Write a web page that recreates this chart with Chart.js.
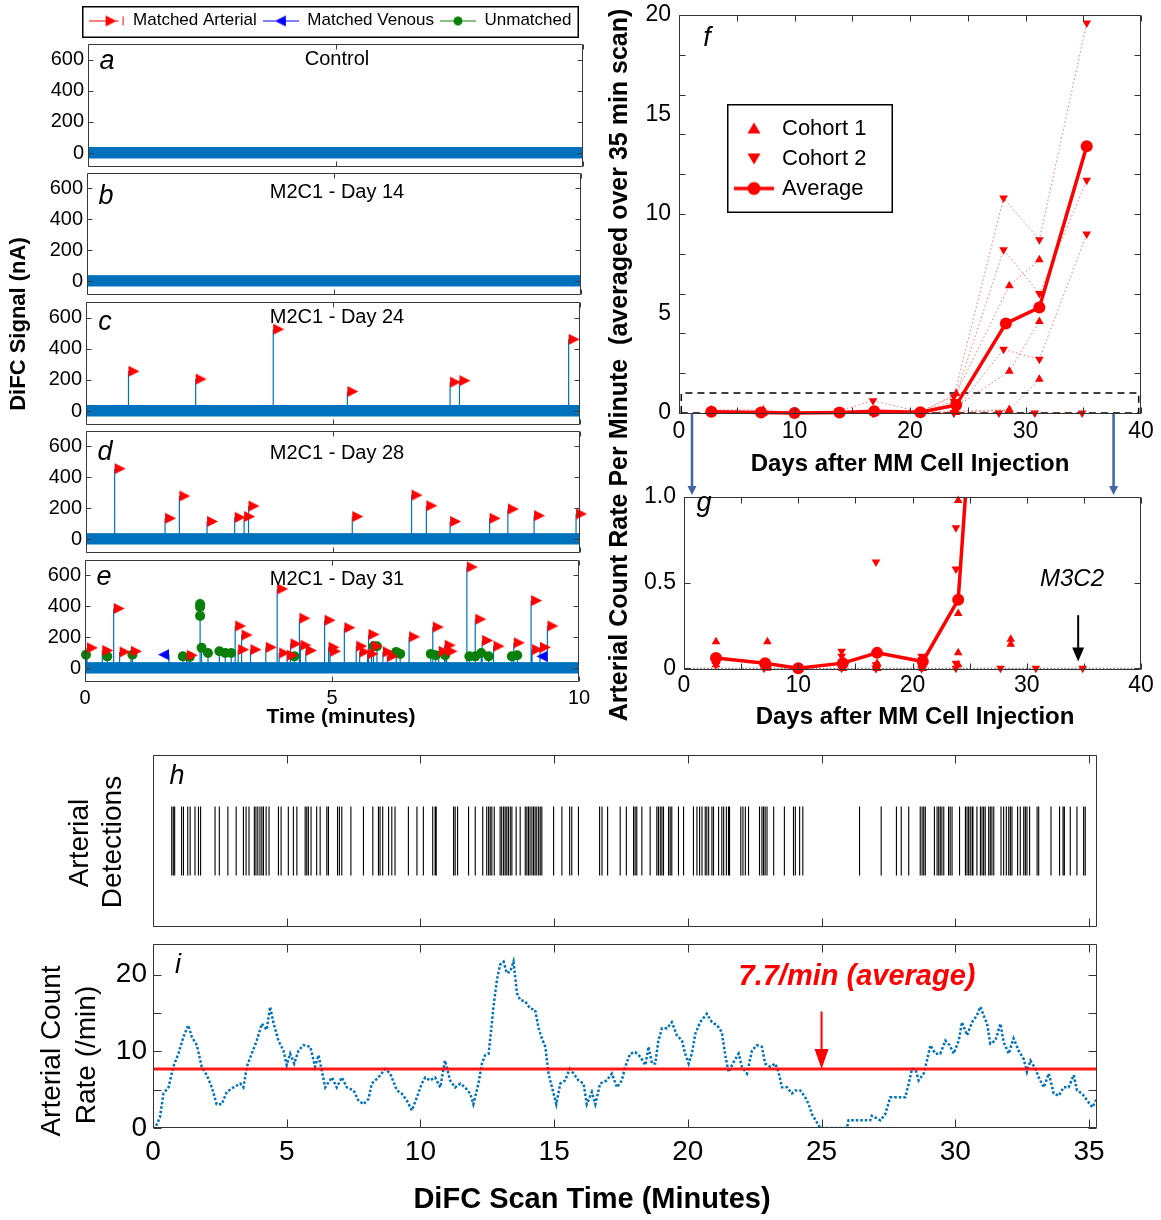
<!DOCTYPE html>
<html>
<head>
<meta charset="utf-8">
<title>DiFC arterial detections</title>
<script src="https://cdn.jsdelivr.net/npm/chart.js@4.4.1/dist/chart.umd.min.js"></script>
<style>
  body { margin: 0; background: #fff; }
  #fig { position: relative; width: 1161px; height: 1220px; overflow: hidden; background: #fff; }
  #fig canvas { position: absolute; left: 0; top: 0; }
</style>
</head>
<body>
<div id="fig">
  <canvas id="chartA" width="1161" height="1220"></canvas>
  <canvas id="chartB" width="1161" height="1220"></canvas>
  <canvas id="chartC" width="1161" height="1220"></canvas>
  <canvas id="chartD" width="1161" height="1220"></canvas>
  <canvas id="chartE" width="1161" height="1220"></canvas>
  <canvas id="chartF" width="1161" height="1220"></canvas>
  <canvas id="chartG" width="1161" height="1220"></canvas>
  <canvas id="chartH" width="1161" height="1220"></canvas>
  <canvas id="chartI" width="1161" height="1220"></canvas>
  <canvas id="legendTop" width="600" height="100" style="left:30px;top:0px"></canvas>
  <canvas id="legendF" width="400" height="109" style="left:727px;top:104px"></canvas>
</div>
<script>
// ---------------- data ----------------
// a-e : DiFC traces (10 min), spikes in nA
var traceTimes = [0, 10]
var noiseLow = [-35, -35]
var noiseHigh = [35, 35]
var signalTicks = [0, 200, 400, 600]
var minuteTicks = [0, 5, 10]

var cArtT = [0.86, 2.22, 3.79, 5.29, 7.37, 7.56, 9.77]
var cArtH = [255, 205, 525, 125, 185, 195, 460]

var dArtT = [0.58, 1.60, 1.89, 2.45, 3.01, 3.20, 3.29, 5.39, 6.59, 6.89, 7.37, 8.17, 8.54, 9.07, 9.92]
var dArtH = [456, 135, 279, 114, 141, 146, 214, 146, 285, 216, 114, 135, 195, 152, 163]

var eArtT = [0.04, 0.35, 0.58, 0.70, 0.93, 2.06, 3.04, 3.10, 3.17, 3.35, 3.66, 3.89, 3.93, 4.09, 4.16, 4.34, 4.36, 4.47, 4.85, 4.93, 4.96, 5.25, 5.49, 5.56, 5.72, 5.74, 5.80, 6.03, 6.12, 6.56, 7.04, 7.16, 7.28, 7.32, 7.73, 7.90, 8.04, 8.27, 8.68, 9.03, 9.05, 9.21, 9.36]
var eArtH = [131, 114, 386, 105, 109, 83, 273, 120, 214, 120, 135, 513, 98, 83, 157, 323, 148, 114, 310, 135, 109, 262, 142, 105, 92, 218, 142, 105, 76, 203, 266, 109, 148, 109, 655, 317, 179, 142, 164, 437, 120, 135, 273]
var eVenT = [1.70, 9.36]
var eVenH = [87, 76]
var eUnT = [0.02, 0.45, 0.96, 1.98, 2.12, 2.33, 2.33, 2.33, 2.36, 2.49, 2.72, 2.84, 2.96, 4.24, 5.84, 5.91, 6.30, 6.38, 7.00, 7.10, 7.29, 7.78, 7.90, 8.02, 8.17, 8.64, 8.75]
var eUnH = [87, 76, 87, 76, 72, 415, 395, 338, 131, 98, 109, 98, 98, 76, 142, 142, 105, 92, 92, 83, 83, 76, 76, 98, 76, 76, 83]

// f, g : count rate per mouse vs day
var avgDays = [2.8, 7.1, 10.0, 13.9, 16.9, 20.9, 24.0, 28.3, 31.2, 35.3]
var avgRate = [0.06, 0.03, 0.0, 0.03, 0.09, 0.04, 0.40, 4.5, 5.3, 13.4]

var cohort1Days = [2.8, 7.3, 10.0, 13.9, 16.9, 20.9, 24.0, 28.6, 31.2]
var c1MouseA = [0.155, 0.155, 0, 0, 0.02, 0, 0.98, 6.4, 7.7]
var c1MouseB = [0.04, 0.01, 0, 0.02, 0, 0, 0.32, 2.1, 4.6]
var c1MouseC = [0.02, 0, 0, 0, 0.03, 0.02, 0.09, 0.17, 1.7]
var c1MouseD = [0.04, 0.02, 0, 0, 0, 0, 0.02, 0.14, null]

var cohort2Days = [2.8, 7.0, 10.0, 13.8, 16.8, 20.8, 23.8, 28.1, 31.2, 35.3]
var c2MouseA = [0.03, 0.02, 0, 0.10, 0.62, 0.07, 0.82, 10.8, 8.7, 19.6]
var c2MouseB = [0.05, 0.01, 0, 0.07, 0.02, 0.05, 0.58, 8.2, 6.0, 11.7]
var c2MouseC = [0.02, 0, 0, 0.03, 0, 0, 0.03, 3.2, 2.7, 9.0]
var m3c2Days = [2.8, 7.0, 10.0, 13.8, 16.8, 20.8, 23.8, 27.7, 30.8, 34.9]
var m3c2Rate = [0.04, 0.03, 0, 0, 0, 0, 0, 0, 0, 0]

var zoomRectDays = [0.2, 39.8]
var zoomRectRate = [0, 1]
var dayTicks = [0, 10, 20, 30, 40]
var dayMarks = [0, 5, 10, 15, 20, 25, 30, 35, 40]
var fRateTicks = [0, 5, 10, 15, 20]
var fRateMarks = [0, 2, 4, 6, 8, 10, 12, 14, 16, 18, 20]
var gRateTicks = [0, 0.5, 1]
var gRateLabels = ['0', '0.5', '1.0']

// h, i : one 35 min scan
var scanRange = [0, 35.3]
var scanTicks = [0, 5, 10, 15, 20, 25, 30, 35]
var eventTimes = [0.70, 0.76, 0.81, 1.07, 1.14, 1.30, 1.39, 1.57, 1.70, 1.78, 2.32, 2.48, 2.80, 3.11, 3.38, 3.48, 3.59, 3.79, 3.85, 3.92, 4.00, 4.07, 4.13, 4.23, 4.34, 4.69, 4.79, 5.06, 5.25, 5.38, 5.69, 5.75, 5.81, 5.91, 6.12, 6.25, 6.50, 6.56, 6.90, 6.97, 7.06, 7.40, 7.87, 8.22, 8.43, 8.49, 8.59, 8.81, 8.93, 9.05, 9.55, 9.87, 10.11, 10.46, 10.55, 10.59, 11.24, 11.30, 11.39, 11.80, 12.05, 12.33, 12.48, 12.55, 12.61, 12.67, 12.76, 12.98, 13.04, 13.11, 13.17, 13.23, 13.29, 13.36, 13.42, 13.58, 13.73, 13.92, 13.98, 14.04, 14.10, 14.17, 14.23, 14.29, 14.35, 14.42, 14.48, 14.54, 14.98, 15.29, 15.58, 15.66, 15.91, 16.70, 16.79, 17.00, 17.47, 17.70, 17.97, 18.03, 18.09, 18.28, 18.59, 18.84, 18.90, 18.97, 19.03, 19.09, 19.28, 19.34, 19.40, 19.65, 19.84, 20.21, 20.34, 20.44, 20.53, 20.65, 20.71, 20.78, 20.90, 20.96, 21.15, 21.27, 21.34, 21.44, 21.52, 21.56, 21.98, 22.06, 22.15, 22.27, 22.68, 22.77, 22.83, 22.89, 22.96, 23.21, 23.61, 23.95, 24.02, 24.18, 24.30, 26.42, 27.23, 27.80, 27.98, 28.26, 28.69, 28.76, 28.82, 28.88, 29.22, 29.32, 29.38, 29.44, 29.50, 29.57, 29.75, 29.81, 29.88, 30.16, 30.38, 30.44, 30.50, 30.56, 30.63, 30.66, 30.81, 30.94, 31.00, 31.06, 31.12, 31.25, 31.31, 31.37, 31.44, 31.71, 31.81, 31.91, 32.00, 32.06, 32.12, 32.33, 32.43, 32.56, 32.62, 32.68, 32.78, 33.06, 33.12, 33.58, 33.90, 34.03, 34.08, 34.30, 34.55, 34.80, 34.86]
var eventSpan = [0.3, 0.7]

var rateTimes = [0.0, 0.08, 0.26, 0.39, 0.58, 0.76, 0.95, 1.14, 1.32, 1.45, 1.64, 1.82, 2.01, 2.2, 2.38, 2.57, 2.76, 3.01, 3.26, 3.38, 3.51, 3.69, 3.88, 4.07, 4.25, 4.38, 4.5, 4.69, 4.88, 5.0, 5.13, 5.28, 5.44, 5.63, 5.88, 6.06, 6.19, 6.31, 6.44, 6.69, 6.87, 7.06, 7.25, 7.5, 7.68, 7.87, 8.06, 8.18, 8.43, 8.68, 8.87, 9.12, 9.3, 9.49, 9.68, 9.87, 10.05, 10.18, 10.36, 10.55, 10.74, 10.92, 11.11, 11.3, 11.49, 11.67, 11.86, 11.98, 12.17, 12.3, 12.42, 12.55, 12.67, 12.73, 12.86, 12.98, 13.11, 13.23, 13.36, 13.48, 13.61, 13.73, 13.92, 14.1, 14.29, 14.42, 14.54, 14.67, 14.79, 14.92, 15.08, 15.23, 15.41, 15.58, 15.73, 15.91, 16.1, 16.22, 16.41, 16.54, 16.72, 16.97, 17.16, 17.35, 17.53, 17.66, 17.84, 18.03, 18.22, 18.41, 18.53, 18.66, 18.78, 18.9, 19.03, 19.22, 19.4, 19.59, 19.78, 19.9, 20.03, 20.15, 20.28, 20.46, 20.71, 20.9, 21.09, 21.27, 21.4, 21.52, 21.71, 21.9, 22.02, 22.21, 22.4, 22.58, 22.77, 22.89, 23.08, 23.27, 23.39, 23.52, 23.71, 23.89, 24.02, 24.2, 24.39, 24.52, 24.64, 24.83, 24.95, 25.95, 26.01, 26.82, 26.88, 27.2, 27.38, 27.57, 27.82, 28.13, 28.26, 28.38, 28.51, 28.63, 28.82, 28.94, 29.07, 29.25, 29.44, 29.63, 29.79, 29.94, 30.13, 30.25, 30.44, 30.63, 30.81, 30.94, 31.06, 31.19, 31.31, 31.5, 31.69, 31.81, 32.0, 32.18, 32.37, 32.56, 32.68, 32.81, 33.0, 33.12, 33.31, 33.5, 33.68, 33.87, 34.05, 34.24, 34.43, 34.55, 34.74, 34.93, 35.12, 35.3]
var rateValues = [0, 0, 1.4, 4.5, 5.3, 8, 9.7, 11.9, 13.4, 11.9, 10.8, 8, 6.9, 5.3, 3.1, 3.1, 4.7, 5.3, 5.8, 5.3, 8, 9.7, 11.4, 13.6, 12.8, 15.8, 13.8, 11.4, 10.1, 8.2, 9.7, 8.4, 10.1, 10.8, 10.6, 8, 9.5, 7.5, 5.3, 6.6, 5.3, 6.6, 5.3, 4.9, 3.6, 3.1, 3.8, 5.8, 6.6, 7.7, 7.1, 4.9, 4.5, 3.6, 2.3, 4.0, 5.8, 6.6, 6.2, 6.6, 5.3, 8.8, 6.2, 5.3, 5.8, 5.3, 4.5, 3.1, 5.8, 8.4, 9.5, 9.7, 13.6, 15.8, 19.3, 21.3, 21.7, 20.2, 20.4, 21.7, 17.6, 16.7, 16.5, 15.6, 15.4, 13, 11.7, 10.6, 7.1, 5.3, 3.1, 5.8, 6.2, 7.7, 7.1, 6.2, 5.8, 3.1, 4.7, 3.1, 5.8, 6.2, 7.1, 5.3, 6.2, 8, 9.7, 9.9, 9.3, 8.2, 10.6, 8.4, 8.4, 11.4, 13, 13, 13.8, 12.1, 11.4, 9.7, 8.4, 9.7, 12.3, 13.8, 14.9, 13.8, 13.4, 12.5, 9.5, 7.3, 8.6, 9.7, 8, 7.1, 10.1, 10.8, 10.6, 8.4, 8, 8.4, 7.3, 5.3, 5.3, 4.5, 4.9, 4.9, 4.0, 3.1, 1.8, 0.7, 0, 0, 1.0, 1.0, 1.6, 1.0, 1.8, 4, 4, 4, 5.8, 7.7, 7.7, 6.2, 7.1, 8.8, 10.8, 9.7, 9.7, 11.4, 10.8, 9.7, 11.4, 13.8, 12.1, 13.8, 14.7, 15.8, 14.7, 13.6, 11, 11.4, 13.6, 11.2, 9.7, 11.7, 10.1, 9, 7.3, 8.8, 7.7, 6.6, 5.3, 7.1, 4.5, 4.2, 5.3, 5.3, 6.9, 4.9, 4.5, 3.6, 2.7, 3.8]
var averageRate = 7.7
var rateTicks = [0, 10, 20]
var rateMarks = [0, 5, 10, 15, 20]

// ---------------- layout / helpers ----------------
var W = 1161, H = 1220
var FONT = '"Liberation Sans", Arial, Helvetica, sans-serif'
var BLUE = '#0072BD'
var RED = '#ff0000'
var GREEN = '#0a800a'

Chart.defaults.font.family = FONT
Chart.defaults.color = '#000'
Chart.defaults.animation = false
Chart.defaults.responsive = false
Chart.defaults.events = []
Chart.defaults.plugins.legend.display = false
Chart.defaults.plugins.tooltip.enabled = false

var boxA = {l: 88, t: 44, r: 583, b: 167}
var boxB = {l: 87, t: 173, r: 581, b: 295}
var boxC = {l: 86, t: 302, r: 580, b: 425}
var boxD = {l: 86, t: 431, r: 580, b: 553}
var boxE = {l: 85, t: 560, r: 579, b: 682}
var boxF = {l: 679, t: 15, r: 1141, b: 414}
var boxG = {l: 684, t: 497, r: 1141, b: 670}
var boxH = {l: 153, t: 755, r: 1097, b: 927}
var boxI = {l: 153, t: 944, r: 1097, b: 1128}

function lay(box, yW, xH) {
  return {padding: {left: box.l - yW, top: box.t, right: W - box.r, bottom: H - box.b - xH}}
}

function axis(dir, min, max, labels, show, font, pad, fixed, fmt) {
  return {
    type: 'linear', min: min, max: max,
    grid: {display: false, drawTicks: false},
    border: {display: false},
    afterBuildTicks: function (s) { s.ticks = labels.map(function (v) { return {value: v} }) },
    afterFit: function (s) {
      if (dir === 'x') { s.height = fixed } else { s.width = fixed }
      // labels may stick out past the box, the page layout already leaves room
      s.paddingTop = 0; s.paddingBottom = 0; s.paddingLeft = 0; s.paddingRight = 0
    },
    ticks: {display: show, autoSkip: false, maxRotation: 0, minRotation: 0, padding: pad, font: {size: font}, color: '#000',
      callback: fmt || function (v) { return String(v) }}
  }
}

function pts(xs, ys) {
  return xs.map(function (x, i) { return {x: x, y: ys[i]} })
}

function stems(times, heights, base) {
  var out = []
  for (var i = 0; i < times.length; i++) {
    out.push({x: times[i], y: base}, {x: times[i], y: heights[i]}, {x: times[i], y: null})
  }
  return out
}

function text(g, s, x, y, font, color, rot, align) {
  g.save()
  g.translate(x, y)
  if (rot) g.rotate(rot)
  g.font = font
  g.fillStyle = color || '#000'
  g.textAlign = align || 'center'
  g.textBaseline = 'middle'
  g.fillText(s, 0, 0)
  g.restore()
}

function arrowDown(g, x, y0, y1, color, lw, hw, hh) {
  g.save()
  g.strokeStyle = color
  g.fillStyle = color
  g.lineWidth = lw
  g.beginPath()
  g.moveTo(x, y0)
  g.lineTo(x, y1 - hh + 1)
  g.stroke()
  g.beginPath()
  g.moveTo(x - hw, y1 - hh)
  g.lineTo(x + hw, y1 - hh)
  g.lineTo(x, y1)
  g.closePath()
  g.fill()
  g.restore()
}

// triangle markers whose flat side sits on the data point (like the stem plots)
function triCanvas(dir, color) {
  var w = 11, h = 11
  var c = document.createElement('canvas')
  c.width = 2 * w + 2
  c.height = h + 2
  var g = c.getContext('2d')
  var m = w + 1
  g.fillStyle = color
  g.beginPath()
  g.moveTo(m, 1)
  g.lineTo(m + dir * w, 1 + h / 2)
  g.lineTo(m, 1 + h)
  g.closePath()
  g.fill()
  return c
}
var triRight = triCanvas(1, RED)
var triLeft = triCanvas(-1, '#0000ff')

function legendIcon(kind, color) {
  var c = document.createElement('canvas')
  c.width = 36
  c.height = 14
  var g = c.getContext('2d')
  g.strokeStyle = color
  g.fillStyle = color
  g.lineWidth = 1
  g.beginPath()
  g.moveTo(0, 7.5)
  g.lineTo(kind === 'r' ? 30 : 36, 7.5)
  if (kind === 'r') { g.moveTo(34.5, 3); g.lineTo(34.5, 12) }
  g.stroke()
  g.beginPath()
  if (kind === 'r') { g.moveTo(17, 2); g.lineTo(28, 7.5); g.lineTo(17, 13) }
  else if (kind === 'l') { g.moveTo(23, 2); g.lineTo(12, 7.5); g.lineTo(23, 13) }
  else { g.arc(18, 7.5, 4.5, 0, Math.PI * 2) }
  g.closePath()
  g.fill()
  return c
}

function fLegendIcon(kind) {
  var c = document.createElement('canvas')
  c.width = 42
  c.height = 18
  var g = c.getContext('2d')
  g.fillStyle = RED
  g.strokeStyle = RED
  g.beginPath()
  if (kind === 'up') { g.moveTo(21, 3); g.lineTo(27.5, 14); g.lineTo(14.5, 14) }
  else if (kind === 'down') { g.moveTo(21, 15); g.lineTo(27.5, 4); g.lineTo(14.5, 4) }
  else {
    g.lineWidth = 3.5
    g.moveTo(1, 9); g.lineTo(41, 9); g.stroke()
    g.beginPath(); g.arc(21, 9, 6.5, 0, Math.PI * 2)
  }
  g.closePath()
  g.fill()
  return c
}

// box round the plot area plus inward tick marks, as in the original figure
var frame = {
  id: 'frame',
  afterDatasetsDraw: function (chart, args, o) {
    var g = chart.ctx, a = chart.chartArea, xs = chart.scales.x, ys = chart.scales.y
    var L = Math.round(a.left) + 0.5, R = Math.round(a.right) - 0.5
    var T = Math.round(a.top) + 0.5, B = Math.round(a.bottom) - 0.5
    g.save()
    g.strokeStyle = o.color || '#262626'
    g.lineWidth = o.lw || 1
    g.beginPath()
    ;(o.xMarks || []).forEach(function (v) {
      var p = Math.round(xs.getPixelForValue(v)) + 0.5
      g.moveTo(p, B); g.lineTo(p, B - o.len)
      g.moveTo(p, T); g.lineTo(p, T + o.len)
    })
    ;(o.yMarks || []).forEach(function (v) {
      var p = Math.round(ys.getPixelForValue(v)) + 0.5
      g.moveTo(L, p); g.lineTo(L + o.len, p)
      g.moveTo(R, p); g.lineTo(R - o.len, p)
    })
    g.rect(L, T, R - L, B - T)
    g.stroke()
    g.restore()
  }
}

// ---------------- a - e ----------------
function signalChart(id, box, title, titleY, letter, letterY, art, ven, unm, last) {
  var datasets = []
  var stT = [], stH = []
  ;[art, ven, unm].forEach(function (s) { if (s) { stT = stT.concat(s[0]); stH = stH.concat(s[1]) } })
  if (art) datasets.push({data: pts(art[0], art[1]), showLine: false, pointStyle: triRight, pointRadius: 6, clip: false, order: 0})
  if (ven) datasets.push({data: pts(ven[0], ven[1]), showLine: false, pointStyle: triLeft, pointRadius: 6, clip: false, order: 0})
  if (unm) datasets.push({data: pts(unm[0], unm[1]), showLine: false, pointStyle: 'circle', pointRadius: 5,
    pointBackgroundColor: GREEN, pointBorderColor: GREEN, pointBorderWidth: 0, clip: false, order: 1})
  datasets.push({data: stems(stT, stH, 0), borderColor: BLUE, borderWidth: 1.2, pointRadius: 0, spanGaps: false, order: 2})
  datasets.push({data: pts(traceTimes, noiseHigh), fill: {value: noiseLow[0]}, backgroundColor: BLUE, borderColor: BLUE,
    borderWidth: 1, pointRadius: 0, order: 3})

  new Chart(document.getElementById(id), {
    type: 'line',
    data: {datasets: datasets},
    options: {
      layout: lay(box, 70, last ? 40 : 0),
      scales: {
        x: axis('x', traceTimes[0], traceTimes[1], minuteTicks, !!last, 20, 4, last ? 40 : 0),
        y: axis('y', -90, 700, signalTicks, true, 20, 4, 70)
      },
      plugins: {frame: {xMarks: minuteTicks, yMarks: signalTicks, len: 5, color: '#3a3a3a'}}
    },
    plugins: [frame, {
      id: 'deco' + id,
      afterDraw: function (c) {
        var g = c.ctx
        text(g, title, 337, titleY, '20px ' + FONT)
        text(g, letter, box.l + 19, letterY, 'italic 27px ' + FONT)
        if (last) {
          text(g, 'Time (minutes)', 341, 717, 'bold 21px ' + FONT)
          text(g, 'DiFC Signal (nA)', 19, 324, 'bold 22px ' + FONT, '#000', -Math.PI / 2)
        }
      }
    }]
  })
}

signalChart('chartA', boxA, 'Control', 59, 'a', 61, null, null, null, false)
signalChart('chartB', boxB, 'M2C1 - Day 14', 192, 'b', 196, null, null, null, false)
signalChart('chartC', boxC, 'M2C1 - Day 24', 317, 'c', 322, [cArtT, cArtH], null, null, false)
signalChart('chartD', boxD, 'M2C1 - Day 28', 453, 'd', 452, [dArtT, dArtH], null, null, false)
signalChart('chartE', boxE, 'M2C1 - Day 31', 579, 'e', 577, [eArtT, eArtH], [eVenT, eVenH], [eUnT, eUnH], true)

// legend for a-e (canvas starts at x=30, the box is drawn at x 82..579, y 6..37)
new Chart(document.getElementById('legendTop'), {
  type: 'line',
  data: {datasets: [
    {label: 'Matched Arterial', data: [], pointStyle: legendIcon('r', RED), borderColor: RED},
    {label: 'Matched Venous', data: [], pointStyle: legendIcon('l', '#0000ff'), borderColor: '#0000ff'},
    {label: 'Unmatched', data: [], pointStyle: legendIcon('c', GREEN), borderColor: GREEN}
  ]},
  options: {
    layout: {padding: {top: 6}},
    scales: {x: {display: false}, y: {display: false}},
    plugins: {legend: {display: true, position: 'top', align: 'center',
      labels: {usePointStyle: true, pointStyleWidth: 36, padding: 6, color: '#000', font: {size: 17}}}}
  },
  plugins: [{
    id: 'legBox',
    afterDraw: function (c) {
      var g = c.ctx
      g.save(); g.strokeStyle = '#000'; g.lineWidth = 1.5
      g.strokeRect(52.75, 6.75, 495.5, 30.5)
      g.restore()
    }
  }]
})

// ---------------- f ----------------
function mouse(days, vals, up, line) {
  return {
    data: pts(days, vals), showLine: line, borderColor: 'rgba(255,0,0,0.55)', borderWidth: 1, borderDash: [1.5, 2.5],
    pointStyle: 'triangle', pointRotation: up ? 0 : 180, pointRadius: 5, pointBackgroundColor: RED,
    pointBorderWidth: 0, spanGaps: false, order: 2, clip: line ? false : {left: 8, right: 8, top: 8, bottom: 8}
  }
}

function mice(line) {
  return [
    mouse(cohort1Days, c1MouseA, true, line), mouse(cohort1Days, c1MouseB, true, line),
    mouse(cohort1Days, c1MouseC, true, line), mouse(cohort1Days, c1MouseD, true, line),
    mouse(cohort2Days, c2MouseA, false, line), mouse(cohort2Days, c2MouseB, false, line),
    mouse(cohort2Days, c2MouseC, false, line), mouse(m3c2Days, m3c2Rate, false, line)
  ]
}

var rectPts = [
  {x: zoomRectDays[0], y: zoomRectRate[0]}, {x: zoomRectDays[0], y: zoomRectRate[1]},
  {x: zoomRectDays[1], y: zoomRectRate[1]}, {x: zoomRectDays[1], y: zoomRectRate[0]},
  {x: zoomRectDays[0], y: zoomRectRate[0]}
]

new Chart(document.getElementById('chartF'), {
  type: 'line',
  data: {datasets: [
    {label: 'Average', data: pts(avgDays, avgRate), borderColor: RED, borderWidth: 3.5, pointStyle: 'circle',
      pointRadius: 6, pointBackgroundColor: RED, pointBorderWidth: 0, order: 0, clip: false}
  ].concat(mice(true)).concat([
    {data: rectPts, borderColor: '#000', borderWidth: 1.5, borderDash: [7, 5], pointRadius: 0, order: 5, clip: false}
  ])},
  options: {
    layout: lay(boxF, 70, 40),
    scales: {
      x: axis('x', 0, 40, dayTicks, true, 23, 4, 40),
      y: axis('y', -0.05, 20, fRateTicks, true, 23, 8, 70)
    },
    plugins: {frame: {xMarks: dayMarks, yMarks: fRateMarks, len: 6, color: '#333'}}
  },
  plugins: [frame, {
    id: 'decoF',
    afterDraw: function (c) {
      var g = c.ctx
      text(g, 'f', 707, 38, 'italic 27px ' + FONT)
      text(g, 'Days after MM Cell Injection', 910, 464, 'bold 24px ' + FONT)
      text(g, 'Arterial Count Rate Per Minute  (averaged over 35 min scan)', 620, 365, 'bold 25px ' + FONT, '#000', -Math.PI / 2)
    }
  }]
})

// legend for f (canvas starts at x=727, the box is 166 x 109)
new Chart(document.getElementById('legendF'), {
  type: 'line',
  data: {datasets: [
    {label: 'Cohort 1', data: [], pointStyle: fLegendIcon('up')},
    {label: 'Cohort 2', data: [], pointStyle: fLegendIcon('down')},
    {label: 'Average', data: [], pointStyle: fLegendIcon('avg')}
  ]},
  options: {
    layout: {padding: {left: 2}},
    scales: {x: {display: false}, y: {display: false}},
    plugins: {legend: {display: true, position: 'left', align: 'center',
      labels: {usePointStyle: true, pointStyleWidth: 34, padding: 8, color: '#000', font: {size: 22}}}}
  },
  plugins: [{
    id: 'legBoxF',
    afterDraw: function (c) {
      var g = c.ctx
      g.save(); g.strokeStyle = '#000'; g.lineWidth = 1.5
      g.strokeRect(0.75, 0.75, 164.5, 107.5)
      g.restore()
    }
  }]
})

// ---------------- g ----------------
new Chart(document.getElementById('chartG'), {
  type: 'line',
  data: {datasets: [
    {data: pts(avgDays, avgRate), borderColor: RED, borderWidth: 3.5, pointStyle: 'circle', pointRadius: 6,
      pointBackgroundColor: RED, pointBorderWidth: 0, order: 0, clip: {left: 8, right: 8, top: 0, bottom: 8}}
  ].concat(mice(false)).concat([
    {data: pts(zoomRectDays, [zoomRectRate[0], zoomRectRate[0]]), borderColor: '#555', borderWidth: 1,
      borderDash: [1.5, 2], pointRadius: 0, order: 5}
  ])},
  options: {
    layout: lay(boxG, 70, 40),
    scales: {
      x: axis('x', 0, 40, dayTicks, true, 23, 2, 40),
      y: axis('y', -0.01, 1, gRateTicks, true, 23, 8, 70, function (v) { return gRateLabels[gRateTicks.indexOf(v)] })
    },
    plugins: {frame: {xMarks: dayMarks, yMarks: gRateTicks, len: 6, color: '#333'}}
  },
  plugins: [frame, {
    id: 'decoG',
    afterDraw: function (c) {
      var g = c.ctx, xs = c.scales.x, ys = c.scales.y
      text(g, 'g', 704, 503, 'italic 27px ' + FONT)
      text(g, 'M3C2', 1072, 579, 'italic 24px ' + FONT)
      text(g, 'Days after MM Cell Injection', 915, 717, 'bold 24px ' + FONT)
      arrowDown(g, xs.getPixelForValue(34.5), ys.getPixelForValue(0.31), ys.getPixelForValue(0.04), '#000', 2, 6, 14)
      arrowDown(g, xs.getPixelForValue(0.7), boxF.b, boxG.t - 2, '#3f65a8', 2.5, 4.5, 9)
      arrowDown(g, xs.getPixelForValue(37.6), boxF.b, boxG.t - 2, '#3f65a8', 2.5, 4.5, 9)
    }
  }]
})

// ---------------- h ----------------
new Chart(document.getElementById('chartH'), {
  type: 'line',
  data: {datasets: [
    {data: stems(eventTimes, eventTimes.map(function () { return eventSpan[1] }), eventSpan[0]),
      borderColor: '#000', borderWidth: 1.1, pointRadius: 0, spanGaps: false}
  ]},
  options: {
    layout: lay(boxH, 0, 0),
    scales: {
      x: axis('x', scanRange[0], scanRange[1], scanTicks, false, 10, 0, 0),
      y: axis('y', 0, 1, [0, 1], false, 10, 0, 0)
    },
    plugins: {frame: {xMarks: scanTicks, yMarks: [], len: 8, color: '#333'}}
  },
  plugins: [frame, {
    id: 'decoH',
    afterDraw: function (c) {
      var g = c.ctx
      text(g, 'h', 177, 776, 'italic 27px ' + FONT)
      text(g, 'Arterial', 80, 843, '28px ' + FONT, '#000', -Math.PI / 2)
      text(g, 'Detections', 113, 842, '28px ' + FONT, '#000', -Math.PI / 2)
    }
  }]
})

// ---------------- i ----------------
new Chart(document.getElementById('chartI'), {
  type: 'line',
  data: {datasets: [
    {data: pts(rateTimes, rateValues), borderColor: BLUE, borderWidth: 2.5, borderDash: [2.5, 2], pointRadius: 0, order: 1},
    {data: pts(scanRange, [averageRate, averageRate]), borderColor: 'rgba(255,0,0,0.9)', borderWidth: 3, pointRadius: 0, order: 0}
  ]},
  options: {
    layout: lay(boxI, 60, 45),
    scales: {
      x: axis('x', scanRange[0], scanRange[1], scanTicks, true, 28, 7, 45),
      y: axis('y', 0, 24, rateTicks, true, 28, 6, 60)
    },
    plugins: {frame: {xMarks: scanTicks, yMarks: rateMarks, len: 8, color: '#333'}}
  },
  plugins: [frame, {
    id: 'decoI',
    afterDraw: function (c) {
      var g = c.ctx, xs = c.scales.x, ys = c.scales.y
      text(g, 'i', 178, 965, 'italic 27px ' + FONT)
      text(g, '7.7/min (average)', 857, 977, 'italic bold 29px ' + FONT, RED)
      arrowDown(g, xs.getPixelForValue(25), ys.getPixelForValue(15.2), ys.getPixelForValue(averageRate), RED, 2, 7, 20)
      text(g, 'Arterial Count', 52, 1051, '28px ' + FONT, '#000', -Math.PI / 2)
      text(g, 'Rate (/min)', 87, 1055, '28px ' + FONT, '#000', -Math.PI / 2)
      text(g, 'DiFC Scan Time (Minutes)', 592, 1200, 'bold 29px ' + FONT)
    }
  }]
})
</script>
</body>
</html>
